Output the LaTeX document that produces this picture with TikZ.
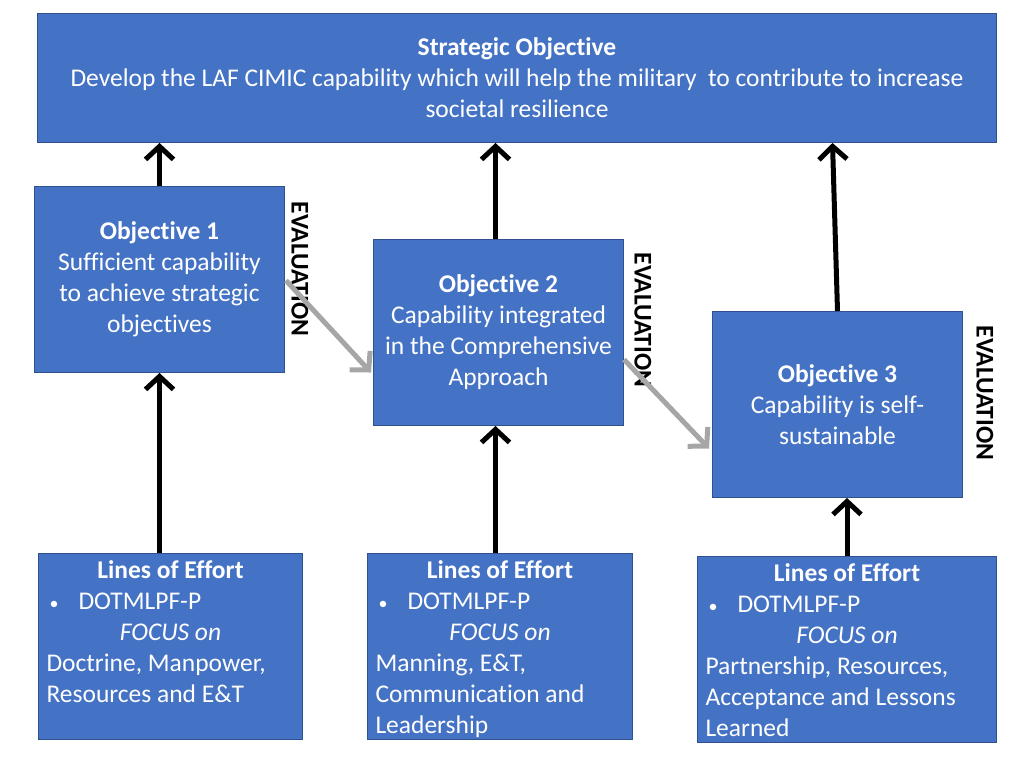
\documentclass[tikz,border=0pt]{standalone}
\usepackage{fontspec}
\setmainfont[Ligatures=NoCommon]{Carlito}
\usetikzlibrary{arrows.meta,calc}
\definecolor{boxblue}{HTML}{4472C4}
\definecolor{boxline}{HTML}{2F528F}
\definecolor{evalgray}{HTML}{A6A6A6}

\begin{document}
\begin{tikzpicture}[x=1pt,y=-1pt,
  box/.style={draw=boxline,line width=1pt,fill=boxblue,text=white,align=center,
    font=\fontsize{25.5}{31}\selectfont,inner sep=0pt,anchor=north west},
  loebox/.style={box,inner xsep=8pt,inner ysep=7pt},
  up/.style={line width=5pt,-{Straight Barb[length=13pt,width=28pt]}},
  evalarrow/.style={draw=evalgray,line width=5pt,-{Straight Barb[length=13pt,width=28pt]}},
  evallabel/.style={rotate=-90,font=\fontsize{25.5}{28}\selectfont\bfseries,inner sep=0pt}]
\useasboundingbox (0,0) rectangle (1024,768);
\node[box,minimum width=959,minimum height=129] (strat) at (37,13)
  {\textbf{Strategic Objective}\\Develop the LAF CIMIC capability which will help the military \ to contribute to increase\\societal resilience};
\node[box,minimum width=250,minimum height=186] (obj1) at (34,186)
  {\textbf{Objective 1}\\Sufficient capability\\to achieve strategic\\objectives};
\node[box,minimum width=250,minimum height=186] (obj2) at (373,239)
  {\textbf{Objective 2}\\Capability integrated\\in the Comprehensive\\Approach};
\node[box,minimum width=250,minimum height=186] (obj3) at (712,311)
  {\textbf{Objective 3}\\Capability is self-\\sustainable};
\node[loebox] (loe1) at (38,553) {\parbox[c][172pt][t]{248pt}{\raggedright
  {\centering\textbf{Lines of Effort}\par}
  \makebox[32pt][l]{\hspace{3pt}{\fontsize{18}{31}\selectfont\textbullet}}DOTMLPF-P\par
  {\centering\textit{FOCUS on}\par}
  Doctrine, Manpower,\\Resources and E\&T}};
\node[loebox] (loe2) at (367,553) {\parbox[c][172pt][t]{249pt}{\raggedright
  {\centering\textbf{Lines of Effort}\par}
  \makebox[32pt][l]{\hspace{3pt}{\fontsize{18}{31}\selectfont\textbullet}}DOTMLPF-P\par
  {\centering\textit{FOCUS on}\par}
  Manning, E\&T,\\Communication and\\Leadership}};
\node[loebox] (loe3) at (697,556) {\parbox[c][172pt][t]{283pt}{\raggedright
  {\centering\textbf{Lines of Effort}\par}
  \makebox[32pt][l]{\hspace{3pt}{\fontsize{18}{31}\selectfont\textbullet}}DOTMLPF-P\par
  {\centering\textit{FOCUS on}\par}
  Partnership, Resources,\\Acceptance and Lessons\\Learned}};
\node[evallabel] (eval1) at (300,269) {EVALUATION};
\node[evallabel] (eval2) at (643,320) {EVALUATION};
\node[evallabel] (eval3) at (985,393) {EVALUATION};
\draw[up] (obj1.north) -- (obj1.north |- strat.south);
\draw[up] ($(obj2.north)+(-3,0)$) -- ($(obj2.north |- strat.south)+(-3,0)$);
\draw[up] (obj3.north) -- ($(obj3.north |- strat.south)+(-5,0)$);
\draw[up] (obj1.south |- loe1.north) -- (obj1.south);
\draw[up] ($(obj2.south |- loe2.north)+(-3,0)$) -- ($(obj2.south)+(-3,0)$);
\draw[up] (loe3.north) -- (loe3.north |- obj3.south);
\draw[evalarrow] ($(obj1.east)+(1,1)$) -- ($(obj2.west)+(-2,40)$);
\draw[evalarrow] ($(obj2.east)+(0,27)$) -- ($(obj3.west)+(-3,44)$);
\end{tikzpicture}
\end{document}
